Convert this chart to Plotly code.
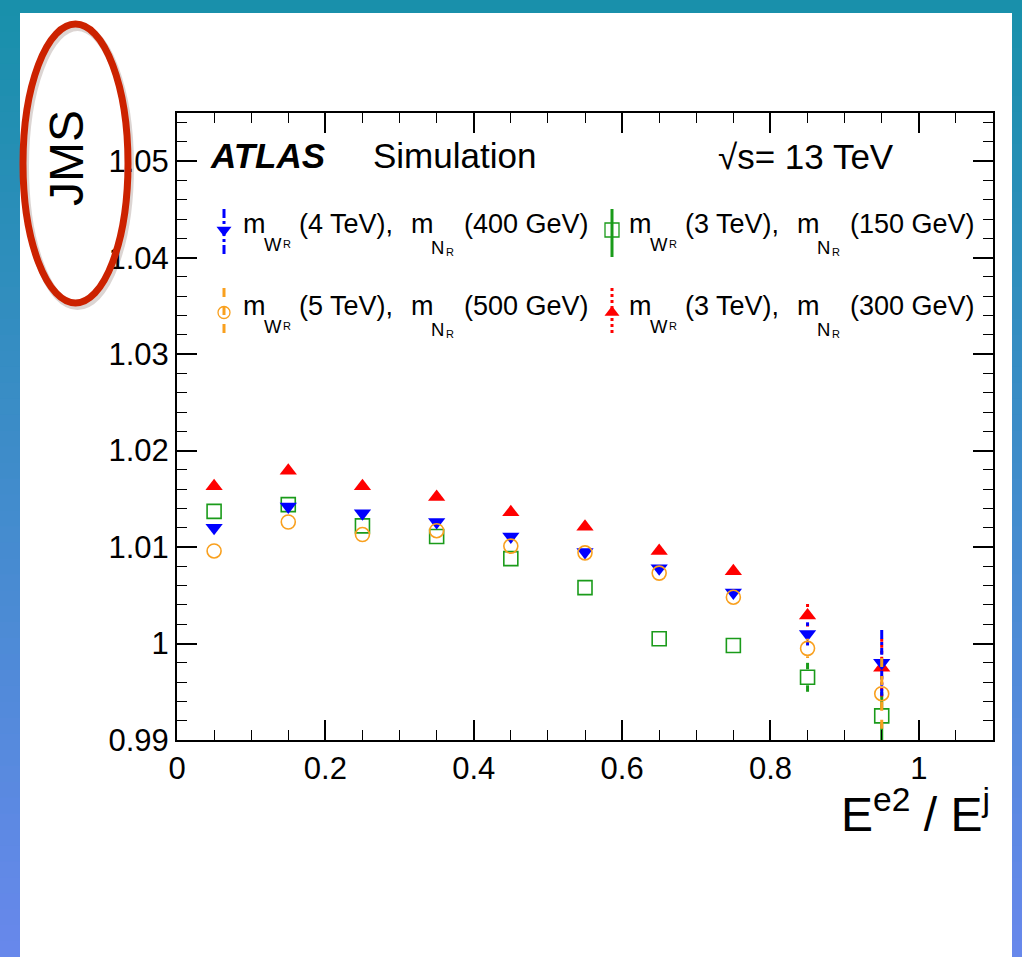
import plotly.graph_objects as go

# ---------------------------------------------------------------- data
x_bins = [0.05, 0.15, 0.25, 0.35, 0.45, 0.55, 0.65, 0.75, 0.85, 0.95]

# m_WR = 4 TeV, m_NR = 400 GeV
jms_w4_n400 = [1.0120, 1.0142, 1.0135, 1.0126, 1.0111, 1.0095, 1.0078, 1.0053, 1.0010, 0.9980]
err_w4_n400 = [0.0002, 0.0002, 0.0002, 0.0002, 0.0002, 0.0003, 0.0003, 0.0004, 0.0012, 0.0034]

# m_WR = 3 TeV, m_NR = 150 GeV
jms_w3_n150 = [1.0137, 1.0144, 1.0122, 1.0111, 1.0088, 1.0058, 1.0005, 0.9998, 0.9965, 0.9925]
err_w3_n150 = [0.0002, 0.0002, 0.0002, 0.0002, 0.0002, 0.0003, 0.0005, 0.0008, 0.0015, 0.0025]

# m_WR = 5 TeV, m_NR = 500 GeV
jms_w5_n500 = [1.0096, 1.0126, 1.0113, 1.0117, 1.0101, 1.0094, 1.0073, 1.0048, 0.9995, 0.9948]
err_w5_n500 = [0.0002, 0.0002, 0.0002, 0.0002, 0.0002, 0.0003, 0.0003, 0.0004, 0.0010, 0.0037]

# m_WR = 3 TeV, m_NR = 300 GeV
jms_w3_n300 = [1.0163, 1.0179, 1.0163, 1.0152, 1.0136, 1.0121, 1.0096, 1.0075, 1.0029, 0.9975]
err_w3_n300 = [0.0002, 0.0002, 0.0002, 0.0002, 0.0002, 0.0003, 0.0003, 0.0004, 0.0012, 0.0030]

x_tickvals = [0.0, 0.2, 0.4, 0.6, 0.8, 1.0]
x_ticktext = ["0", "0.2", "0.4", "0.6", "0.8", "1"]
y_tickvals = [0.99, 1.00, 1.01, 1.02, 1.03, 1.04, 1.05]
y_ticktext = ["0.99", "1", "1.01", "1.02", "1.03", "1.04", "1.05"]

x_range = [0.0, 1.1]
y_range = [0.99, 1.055]

# ---------------------------------------------------------------- page geometry (pixels)
W, H = 1022, 957
PL, PR, PT, PB = 177, 993, 113, 740
FONT = "Liberation Sans, Arial, Helvetica, sans-serif"


def px(xp):
    return xp / W


def py(yp):
    return 1 - yp / H


BLUE, GREEN, ORANGE, RED = "#0000ff", "#1a9b1a", "#f9a01e", "#ff0000"

series = [
    dict(y=jms_w3_n150, e=err_w3_n150, c=GREEN, sym="square-open", dash="solid", mw="3", mn="150", slot=(1, 0)),
    dict(y=jms_w3_n300, e=err_w3_n300, c=RED, sym="triangle-up", dash="dot", mw="3", mn="300", slot=(1, 1)),
    dict(y=jms_w4_n400, e=err_w4_n400, c=BLUE, sym="triangle-down", dash="dashdot", mw="4", mn="400", slot=(0, 0)),
    dict(y=jms_w5_n500, e=err_w5_n500, c=ORANGE, sym="circle-open", dash="dash", mw="5", mn="500", slot=(0, 1)),
]


def marker_size(sym):
    return 15 if sym.startswith("triangle") else 14


# half marker height expressed in data units, so error bars stop at the marker edge
gap = 8 * (y_range[1] - y_range[0]) / (PB - PT)

fig = go.Figure()

for s in series:
    ex, ey = [], []
    for xv, yv, ev in zip(x_bins, s["y"], s["e"]):
        if ev > gap:
            ex += [xv, xv, None, xv, xv, None]
            ey += [yv + ev, yv + gap, None, yv - gap, yv - ev, None]
    fig.add_trace(go.Scatter(
        x=ex, y=ey, mode="lines", showlegend=False, hoverinfo="skip",
        line=dict(color=s["c"], width=3, dash=s["dash"]),
    ))
    open_sym = s["sym"].endswith("open")
    fig.add_trace(go.Scatter(
        x=x_bins, y=s["y"], mode="markers", showlegend=False,
        marker=dict(symbol=s["sym"], size=marker_size(s["sym"]), color=s["c"],
                    line=dict(color=s["c"], width=1.6 if open_sym else 0)),
    ))

# ---------------------------------------------------------------- legend glyphs (pixel subplot)
col_text_x = [242, 628]
row_base = [233, 315]
glyph_x = [224, 612]
bar_span = [(209, 257), (288, 335)]
for s in series:
    c, r = s["slot"]
    gx = glyph_x[c]
    y0, y1 = bar_span[r]
    fig.add_trace(go.Scatter(
        x=[gx, gx], y=[y0, y1], mode="lines", xaxis="x2", yaxis="y2",
        showlegend=False, hoverinfo="skip",
        line=dict(color=s["c"], width=3, dash=s["dash"]),
    ))
    gy = (y0 + y1) / 2 - (3 if r == 0 else -1)
    lsize = {"square-open": 14, "circle-open": 12}.get(s["sym"], 13)
    fig.add_trace(go.Scatter(
        x=[gx], y=[gy], mode="markers", xaxis="x2", yaxis="y2",
        showlegend=False, hoverinfo="skip",
        marker=dict(symbol=s["sym"], size=lsize, color=s["c"],
                    line=dict(color=s["c"], width=1.3 if s["sym"].endswith("open") else 0)),
    ))

annotations = []


def text_at(txt, xl, base, size, anchor="left", **kw):
    annotations.append(dict(
        text=txt, xref="paper", yref="paper", x=px(xl), y=py(base - 0.35 * size),
        xanchor=anchor, yanchor="middle", showarrow=False, borderpad=0,
        font=dict(family=FONT, size=size, color="black"), **kw))


# legend text: m_{W_R} (x TeV), m_{N_R} (y GeV)
for s in series:
    c, r = s["slot"]
    x0, b0 = col_text_x[c], row_base[r]
    pieces = [
        ("m", 0, 0, 27), ("W", 21, 18, 18.5), ("R", 40, 15, 11),
        ("(%s TeV)," % s["mw"], 56, 0, 27),
        ("m", 168, 0, 27), ("N", 188, 21, 18.5), ("R", 203, 23, 11),
        ("(%s GeV)" % s["mn"], 221, 0, 27),
    ]
    for t, dx, db, fs in pieces:
        text_at(t, x0 + dx, b0 + db, fs)

text_at("<b><i>ATLAS</i></b>", 209, 168, 35)
text_at("Simulation", 372, 168, 35)
text_at("√s= 13 TeV", 717, 169, 35)

# axis titles
annotations.append(dict(
    text="JMS", xref="paper", yref="paper", x=px(66), y=py(158),
    xanchor="center", yanchor="middle", textangle=-90, showarrow=False,
    font=dict(family=FONT, size=48, color="black")))
annotations.append(dict(
    text="E<sup>e2</sup> / E<sup>j</sup>", xref="paper", yref="paper",
    x=px(992), y=py(843), xanchor="right", yanchor="bottom", showarrow=False,
    font=dict(family=FONT, size=48, color="black")))

# ---------------------------------------------------------------- background
shapes = []
top_rgb = (24, 144, 170)
bot_rgb = (104, 136, 236)
n_strips = 60
for i in range(n_strips):
    f = (i + 0.5) / n_strips
    col = "rgb(%d,%d,%d)" % tuple(round(a + (b - a) * f) for a, b in zip(top_rgb, bot_rgb))
    shapes.append(dict(type="rect", xref="paper", yref="paper", layer="below",
                       x0=0, x1=1, y0=max(0, 1 - (i + 1) / n_strips - 0.002), y1=1 - i / n_strips,
                       line=dict(width=0), fillcolor=col))
shapes.append(dict(type="rect", xref="paper", yref="paper", layer="below",
                   x0=px(20), x1=px(1012), y0=0, y1=py(13),
                   line=dict(width=0), fillcolor="white"))

# hand-drawn highlight round the y-axis title
shapes.append(dict(type="circle", xref="paper", yref="paper", layer="above",
                   x0=px(25), x1=px(130), y0=py(306), y1=py(27),
                   line=dict(color="rgba(60,20,10,0.18)", width=8)))
shapes.append(dict(type="circle", xref="paper", yref="paper", layer="above",
                   x0=px(23), x1=px(128), y0=py(303), y1=py(24),
                   line=dict(color="#cc2200", width=7)))

axis_common = dict(
    showline=True, linecolor="black", linewidth=2, mirror="ticks",
    ticks="inside", ticklen=20, tickwidth=1.5, tickcolor="black",
    showgrid=False, zeroline=False, automargin=False,
    tickfont=dict(family=FONT, size=31, color="black"),
)

fig.update_layout(
    template="none",
    width=W, height=H, autosize=False,
    margin=dict(l=0, r=0, t=0, b=0, pad=0),
    paper_bgcolor="rgb(24,144,170)",
    plot_bgcolor="rgba(0,0,0,0)",
    showlegend=False,
    xaxis=dict(domain=[px(PL), px(PR)], range=x_range, anchor="y",
               tickmode="array", tickvals=x_tickvals, ticktext=x_ticktext,
               minor=dict(dtick=0.05, tick0=0, ticklen=10, ticks="inside", tickcolor="black", tickwidth=1),
               **axis_common),
    yaxis=dict(domain=[py(PB), py(PT)], range=y_range, anchor="x",
               tickmode="array", tickvals=y_tickvals, ticktext=y_ticktext,
               minor=dict(dtick=0.002, tick0=0.99, ticklen=10, ticks="inside", tickcolor="black", tickwidth=1),
               **axis_common),
    xaxis2=dict(domain=[0, 1], range=[0, W], anchor="y2", visible=False,
                fixedrange=True, automargin=False),
    yaxis2=dict(domain=[0, 1], range=[H, 0], anchor="x2", visible=False,
                fixedrange=True, automargin=False),
    shapes=shapes,
    annotations=annotations,
)

fig.write_html("out.html")
